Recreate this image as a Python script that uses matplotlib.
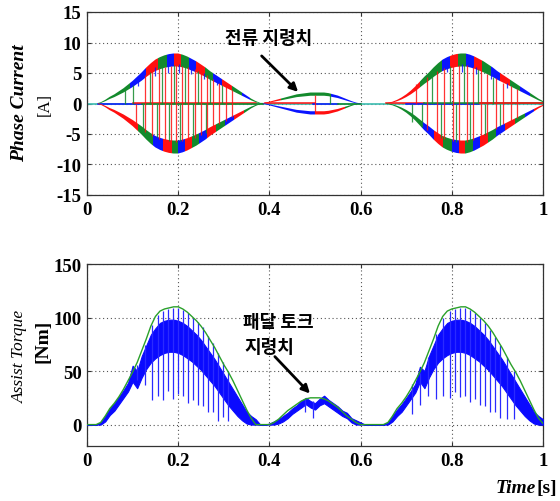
import numpy as np
import matplotlib
matplotlib.use('Agg')
import matplotlib.pyplot as plt
from matplotlib.patches import Polygon

plt.rcParams['axes.unicode_minus'] = False

# ---------------- data ----------------
time = np.linspace(0, 1, 101)

# phase-current envelope (A), read every 0.01 s
current_env = [0, 0, 0, 0.2, 0.6, 1.1, 1.5, 2.0, 2.5, 3.1,
               3.7, 4.4, 5.1, 5.9, 6.6, 7.2, 7.6, 7.9, 8.1, 8.2,
               8.2, 8.0, 7.7, 7.3, 6.9, 6.4, 5.9, 5.3, 4.8, 4.3,
               3.8, 3.3, 2.8, 2.3, 1.8, 1.3, 0.8, 0.4, 0.1, 0.1,
               0.3, 0.5, 0.7, 0.9, 1.1, 1.3, 1.5, 1.6, 1.7, 1.8,
               1.8, 1.8, 1.8, 1.7, 1.5, 1.3, 1.0, 0.7, 0.4, 0.15,
               0, 0, 0, 0, 0, 0, 0.1, 0.3, 0.6, 1.0,
               1.5, 2.1, 2.8, 3.6, 4.4, 5.1, 5.9, 6.6, 7.2, 7.6,
               7.9, 8.1, 8.2, 8.2, 8.0, 7.7, 7.3, 6.9, 6.4, 5.9,
               5.3, 4.8, 4.3, 3.8, 3.3, 2.8, 2.3, 1.8, 1.3, 0.8, 0.4]

# colour blocks on the positive / negative envelope: (start, end, phase)
upper_blocks = [(0.025, 0.095, 'g'), (0.095, 0.130, 'b'), (0.130, 0.155, 'r'),
                (0.155, 0.175, 'g'), (0.175, 0.191, 'b'), (0.191, 0.207, 'r'),
                (0.207, 0.223, 'g'), (0.223, 0.240, 'b'), (0.240, 0.258, 'r'),
                (0.258, 0.277, 'g'), (0.277, 0.297, 'b'), (0.297, 0.318, 'r'),
                (0.318, 0.340, 'g'), (0.340, 0.358, 'b'), (0.358, 0.385, 'g'),
                (0.385, 0.425, 'r'), (0.425, 0.535, 'g'), (0.535, 0.600, 'b'),
                (0.655, 0.730, 'r'), (0.730, 0.778, 'g'), (0.778, 0.796, 'b'),
                (0.796, 0.814, 'r'), (0.814, 0.832, 'g'), (0.832, 0.849, 'b'),
                (0.849, 0.867, 'r'), (0.867, 0.886, 'g'), (0.886, 0.906, 'b'),
                (0.906, 0.927, 'r'), (0.927, 0.950, 'g'), (0.950, 0.972, 'b'),
                (0.972, 1.000, 'g')]
lower_blocks = [(0.025, 0.112, 'r'), (0.112, 0.145, 'g'), (0.145, 0.167, 'b'),
                (0.167, 0.186, 'r'), (0.186, 0.200, 'g'), (0.200, 0.215, 'b'),
                (0.215, 0.230, 'r'), (0.230, 0.246, 'g'), (0.246, 0.263, 'b'),
                (0.263, 0.282, 'r'), (0.282, 0.302, 'g'), (0.302, 0.323, 'b'),
                (0.323, 0.345, 'r'), (0.345, 0.385, 'g'),
                (0.385, 0.500, 'b'), (0.500, 0.565, 'r'), (0.565, 0.600, 'g'),
                (0.655, 0.735, 'g'), (0.735, 0.760, 'b'), (0.760, 0.780, 'r'),
                (0.780, 0.800, 'g'), (0.800, 0.815, 'b'), (0.815, 0.830, 'r'),
                (0.830, 0.846, 'g'), (0.846, 0.862, 'b'), (0.862, 0.879, 'r'),
                (0.879, 0.897, 'g'), (0.897, 0.917, 'b'), (0.917, 0.938, 'r'),
                (0.938, 0.960, 'g'), (0.960, 0.980, 'b'), (0.980, 1.000, 'r')]

# near-zero phase segments: (start, end, phase, level)
zero_segments = [(0.025, 0.12, 'b', 0.0), (0.10, 0.37, 'r', 0.12), (0.12, 0.385, 'g', 0.0),
                 (0.39, 0.50, 'r', 0.08), (0.495, 0.55, 'b', 0.0), (0.55, 0.60, 'g', 0.0),
                 (0.655, 0.74, 'r', 0.10), (0.70, 0.86, 'b', 0.0), (0.74, 1.0, 'g', 0.05),
                 (0.86, 1.0, 'r', 0.10)]

# commutation spikes in current: (time, phase, from, to)
current_spikes = [
    (0.083, 'g', 0, 2.4), (0.100, 'g', 0, 3.0), (0.108, 'r', -3.6, 0), (0.112, 'b', 2.8, 4.0),
    (0.122, 'g', -4.2, 0), (0.128, 'r', -4.6, 4.6), (0.138, 'g', 0, 5.2), (0.143, 'r', -5.3, 5.3),
    (0.150, 'b', 4.5, 6.0), (0.153, 'g', -5.5, 0), (0.158, 'r', -5.8, 5.8), (0.165, 'g', 0, 6.0),
    (0.170, 'r', -6.0, 6.0), (0.177, 'b', 5.0, 6.4), (0.180, 'g', -6.2, 0), (0.184, 'r', -6.2, 6.2),
    (0.190, 'g', 0, 6.3), (0.196, 'r', -6.3, 6.3), (0.202, 'b', 5.0, 6.4), (0.205, 'g', -6.2, 0),
    (0.209, 'r', -6.2, 6.2), (0.216, 'g', 0, 6.1), (0.222, 'r', -6.0, 6.0), (0.228, 'b', 4.8, 6.0),
    (0.232, 'g', -5.8, 0), (0.236, 'r', -5.7, 5.7), (0.243, 'g', 0, 5.4), (0.249, 'r', -5.2, 5.2),
    (0.256, 'b', 4.0, 5.0), (0.260, 'g', -4.8, 0), (0.263, 'r', -4.7, 4.7), (0.270, 'g', 0, 4.3),
    (0.277, 'r', -4.0, 4.0), (0.284, 'b', 3.0, 3.8), (0.290, 'r', -3.4, 3.4), (0.297, 'g', 0, 3.0),
    (0.304, 'r', -2.8, 2.8), (0.318, 'r', -2.2, 2.2),
    (0.500, 'r', -1.6, 1.4), (0.533, 'g', 0, 1.5),
    (0.712, 'g', -3.0, 0), (0.722, 'r', 0, 3.2), (0.735, 'g', -3.8, 0), (0.745, 'r', -4.3, 4.3),
    (0.757, 'g', 0, 4.8), (0.768, 'r', -5.4, 5.4), (0.776, 'g', -5.7, 0), (0.783, 'r', -5.9, 5.9),
    (0.790, 'b', 5.2, 6.4), (0.795, 'g', 0, 6.2), (0.802, 'r', -6.2, 6.2), (0.809, 'g', -6.3, 0),
    (0.815, 'r', -6.3, 6.3), (0.822, 'b', 5.2, 6.5), (0.827, 'g', 0, 6.3), (0.833, 'r', -6.3, 6.3),
    (0.840, 'g', -6.1, 0), (0.846, 'r', -6.0, 6.0), (0.853, 'b', 4.8, 6.0), (0.858, 'g', 0, 5.7),
    (0.865, 'r', -5.5, 5.5), (0.872, 'g', -5.2, 0), (0.878, 'r', -4.9, 4.9), (0.885, 'b', 4.0, 5.0),
    (0.891, 'g', 0, 4.4), (0.898, 'r', -4.1, 4.1), (0.906, 'g', -3.7, 0), (0.913, 'r', -3.4, 3.4),
    (0.921, 'b', 2.6, 3.3), (0.929, 'r', -2.9, 2.9), (0.944, 'r', -2.3, 2.3)]

# torque command (Nm), every 0.01 s
torque_ref = [0, 0, 0, 2, 8, 15, 20, 26, 33, 41,
              49, 58, 69, 80, 92, 101, 106, 108, 109, 110,
              110, 108, 105, 101, 97, 92, 86, 79, 72, 64,
              56, 49, 41, 32, 23, 14, 6, 0, 0, 0,
              0, 2, 5, 9, 13, 16, 19, 22, 24, 25,
              25, 25, 24, 22, 19, 16, 12, 8, 5, 2,
              0, 0, 0, 0, 0, 0, 2, 8, 15, 20,
              26, 33, 41, 49, 58, 69, 80, 92, 101, 106,
              108, 109, 110, 110, 108, 105, 101, 97, 92, 86,
              79, 72, 64, 56, 49, 41, 32, 23, 14, 6, 1]

# actual assist torque: dense band limits (Nm)
torque_hi = [0, 0, 0, 2, 8, 15, 20, 26, 32, 39,
             55, 50, 64, 74, 84, 90, 95, 97, 98, 98,
             97, 95, 92, 88, 84, 79, 73, 67, 61, 54,
             47, 40, 33, 26, 19, 12, 8, 5, 0, 0,
             1, 3, 5, 8, 11, 15, 18, 22, 25, 22,
             20, 24, 27, 23, 20, 17, 13, 11, 6, 4,
             2, 0, 0, 0, 0, 0, 2, 8, 14, 19,
             25, 31, 38, 54, 50, 64, 74, 84, 90, 95,
             97, 98, 98, 97, 95, 92, 88, 84, 79, 73,
             67, 61, 54, 47, 40, 33, 26, 19, 12, 8, 5]
torque_lo = [0, 0, 0, 0, 3, 9, 13, 19, 25, 31,
             40, 34, 44, 52, 58, 62, 65, 67, 68, 68,
             67, 65, 62, 59, 55, 51, 46, 41, 36, 30,
             24, 18, 13, 8, 4, 1, 0, 0, 0, 0,
             0, 0, 1, 3, 6, 10, 13, 16, 19, 16,
             14, 18, 20, 17, 14, 11, 8, 6, 2, 0,
             0, 0, 0, 0, 0, 0, 0, 3, 8, 12,
             18, 24, 30, 40, 34, 44, 52, 58, 62, 65,
             67, 68, 68, 67, 65, 62, 59, 55, 51, 46,
             41, 36, 30, 24, 18, 13, 8, 4, 1, 0, 0]

# torque ripple spikes: (time, bottom, top)
torque_spikes = [
    (0.109, 42, 56), (0.127, 37, 74), (0.142, 23, 93), (0.156, 27, 102), (0.167, 23, 106),
    (0.178, 31, 108), (0.189, 24, 109), (0.200, 29, 109), (0.211, 27, 107), (0.222, 20, 104),
    (0.233, 23, 100), (0.244, 18, 96), (0.255, 17, 91), (0.266, 12, 83), (0.277, 12, 76),
    (0.288, 3, 67), (0.299, 7, 58), (0.310, 3, 50),
    (0.478, 12, 24), (0.496, 6, 22),
    (0.712, 10, 38), (0.730, 18, 48), (0.748, 27, 63), (0.766, 24, 85), (0.781, 27, 100),
    (0.796, 25, 106), (0.807, 30, 108), (0.818, 26, 109), (0.829, 27, 109), (0.840, 21, 107),
    (0.851, 24, 104), (0.862, 18, 100), (0.873, 17, 95), (0.884, 12, 88), (0.895, 12, 82),
    (0.906, 6, 74), (0.921, 5, 63), (0.936, 5, 50)]

x_ticks = [0, 0.2, 0.4, 0.6, 0.8, 1.0]
x_ticklabels = ['0', '0.2', '0.4', '0.6', '0.8', '1']
cur_ticks = [-15, -10, -5, 0, 5, 10, 15]
tq_ticks = [0, 50, 100, 150]

# ---------------- style ----------------
PH = {'b': '#0a14ff', 'r': '#ff1010', 'g': '#138a2c'}
SERIF = 'Liberation Serif'
KR = ['Noto Sans CJK KR', 'DejaVu Sans']
ARROW = dict(arrowstyle='-|>', lw=2, color='k', mutation_scale=12, shrinkA=0, shrinkB=0)

fig = plt.figure(figsize=(5.6, 5.02), dpi=100)
ax1 = fig.add_axes([87/560, 1 - 196/502, 456/560, 183/502])
ax2 = fig.add_axes([87/560, 1 - 447/502, 456/560, 182/502])

t = np.asarray(time)
env = np.asarray(current_env)
band = 0.25 * env + 0.08

# --- phase currents ---
ax1.plot(t, np.zeros_like(t), color='#3cbcb0', lw=1.2, zorder=2)
for t0, t1, c, lev in zero_segments:
    ax1.plot([t0, t1], [lev, lev], color=PH[c], lw=1.1, zorder=2.5)

up_poly = Polygon(np.column_stack([np.r_[t, t[::-1]], np.r_[env, (env - band)[::-1]]]),
                  closed=True, transform=ax1.transData, fc='none', ec='none')
lo_poly = Polygon(np.column_stack([np.r_[t, t[::-1]], np.r_[-env, (-env + band)[::-1]]]),
                  closed=True, transform=ax1.transData, fc='none', ec='none')
ax1.add_patch(up_poly)
ax1.add_patch(lo_poly)
for blocks, poly in ((upper_blocks, up_poly), (lower_blocks, lo_poly)):
    for t0, t1, c in blocks:
        sp = ax1.axvspan(t0, t1, color=PH[c], lw=0, zorder=3)
        sp.set_clip_path(poly)

st = [s[0] for s in current_spikes]
sc = [PH[s[1]] for s in current_spikes]
s0 = [s[2] for s in current_spikes]
s1 = [s[3] for s in current_spikes]
ax1.vlines(st, s0, s1, colors=sc, lw=0.9, alpha=0.85, zorder=4)

ax1.set_xlim(0, 1)
ax1.set_ylim(-15, 15)
ax1.set_yticks(cur_ticks)

ax1.annotate('', xy=(0.463, 1.9), xytext=(0.383, 7.8), arrowprops=ARROW, zorder=6)
ax1.text(0.398, 10.8, '전류 지령치', ha='center', va='center', fontsize=13,
         fontweight='bold', family=KR)

# --- torque ---
ax2.fill_between(t, torque_lo, torque_hi, color='#0a0aff', lw=0.8, ec='#0a0aff', zorder=3)
tt = [s[0] for s in torque_spikes]
tb = [s[1] for s in torque_spikes]
tp = [s[2] for s in torque_spikes]
ax2.vlines(tt, tb, tp, colors='#2a2aff', lw=0.9, zorder=3.5)
ax2.plot(t, torque_ref, color='#2aa02a', lw=1.0, zorder=5)
ax2.set_xlim(0, 1)
ax2.set_ylim(-20, 150)
ax2.set_yticks(tq_ticks)

ax2.annotate('', xy=(0.489, 29), xytext=(0.412, 63.5), arrowprops=ARROW, zorder=6)
ax2.text(0.419, 96, '패달 토크', ha='center', va='center', fontsize=13,
         fontweight='bold', family=KR)
ax2.text(0.401, 72.5, '지령치', ha='center', va='center', fontsize=13,
         fontweight='bold', family=KR)

for ax in (ax1, ax2):
    ax.set_xticks(x_ticks)
    ax.set_xticklabels(x_ticklabels)
    ax.grid(True, linestyle=(0, (1, 2.5)), color='#555555', lw=0.8)
    ax.set_axisbelow(True)
    ax.tick_params(direction='in', top=True, right=True, length=3, width=0.8,
                   labelsize=13.5, pad=4, color='#333333')
    for lab in ax.get_xticklabels() + ax.get_yticklabels():
        lab.set_fontfamily(SERIF)
        lab.set_fontweight('bold')
    for sp in ax.spines.values():
        sp.set_color('#333333')
        sp.set_linewidth(0.9)

# axis labels
fig.text(20/560, 1 - 103/502, 'Phase Current', rotation=90, ha='center', va='center',
         family=SERIF, style='italic', fontweight='bold', fontsize=14)
fig.text(45/560, 1 - 104/502, '[A]', rotation=90, ha='center', va='center',
         family=SERIF, fontsize=12)
fig.text(20/560, 1 - 356/502, 'Assist Torque', rotation=90, ha='center', va='center',
         family=SERIF, style='italic', fontsize=12.5)
fig.text(43/560, 1 - 341/502, '[Nm]', rotation=90, ha='center', va='center',
         family=SERIF, fontweight='bold', fontsize=14)
fig.text(536/560, 1 - 489/502, 'Time', ha='right', va='center',
         family=SERIF, style='italic', fontweight='bold', fontsize=14)
fig.text(536/560, 1 - 489/502, '[s]', ha='left', va='center',
         family=SERIF, fontweight='bold', fontsize=14)

fig.savefig('out.png', dpi=100)
